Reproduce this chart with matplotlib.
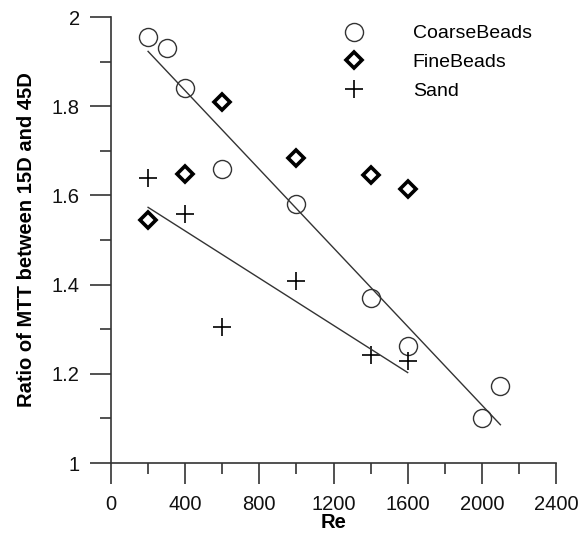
import matplotlib.pyplot as plt
import numpy as np

plt.rcParams['font.family'] = ['Liberation Sans', 'DejaVu Sans']

# Data
coarse_re = [200, 300, 400, 600, 1000, 1400, 1600, 2000, 2100]
coarse_ratio = [1.955, 1.93, 1.84, 1.66, 1.58, 1.37, 1.262, 1.10, 1.173]

fine_re = [200, 400, 600, 1000, 1400, 1600]
fine_ratio = [1.545, 1.648, 1.81, 1.684, 1.646, 1.614]

sand_re = [200, 400, 600, 1000, 1400, 1600]
sand_ratio = [1.639, 1.558, 1.305, 1.408, 1.242, 1.229]

fig = plt.figure(figsize=(5.79, 5.37), dpi=100)
ax = fig.add_axes([0.1917, 0.1378, 0.7686, 0.8305])

ax.plot(coarse_re, coarse_ratio, 'o', ms=13, mfc='white', mec='#333333', mew=1.0,
        ls='none', label='CoarseBeads')
ax.plot(fine_re, fine_ratio, 'D', ms=8.5, mfc='white', mec='black', mew=2.6,
        ls='none', label='FineBeads')
ax.plot(sand_re, sand_ratio, '+', ms=13, mec='black', mew=1.2,
        ls='none', label='Sand')

# linear fits
for xs, ys in [(coarse_re, coarse_ratio), (sand_re, sand_ratio)]:
    p = np.polyfit(xs, ys, 1)
    xx = np.array([min(xs), max(xs)])
    ax.plot(xx, np.polyval(p, xx), color='#333333', lw=1.0)

ax.set_xlim(0, 2400)
ax.set_ylim(1, 2)
ax.set_xticks(np.arange(0, 2401, 400))
ax.set_xticks(np.arange(200, 2400, 400), minor=True)
ax.set_yticks([1, 1.2, 1.4, 1.6, 1.8, 2])
ax.set_yticklabels(['1', '1.2', '1.4', '1.6', '1.8', '2'])
ax.set_yticks(np.arange(1.1, 2.0, 0.2), minor=True)

for s in ['top', 'right']:
    ax.spines[s].set_visible(False)
for s in ['left', 'bottom']:
    ax.spines[s].set_linewidth(1.2)
    ax.spines[s].set_color('#333333')

ax.tick_params(which='major', direction='out', length=15, width=1.2, color='#333333',
               labelsize=14.5, labelcolor='#111111')
ax.tick_params(which='minor', direction='out', length=8, width=1.2, color='#333333')
ax.tick_params(axis='x', which='major', pad=8)
ax.tick_params(axis='y', which='major', pad=7.5)

ax.set_xlabel('Re', fontsize=14.5, fontweight='bold', labelpad=-1)
ax.set_ylabel('Ratio of MTT between 15D and 45D', fontsize=14.5, fontweight='bold', labelpad=11)

ax.legend(loc='upper left', bbox_to_anchor=(0.486, 1.0), frameon=False, fontsize=14,
          handletextpad=2.0, labelspacing=0.58, borderaxespad=0)

plt.savefig('out.png', dpi=100)
